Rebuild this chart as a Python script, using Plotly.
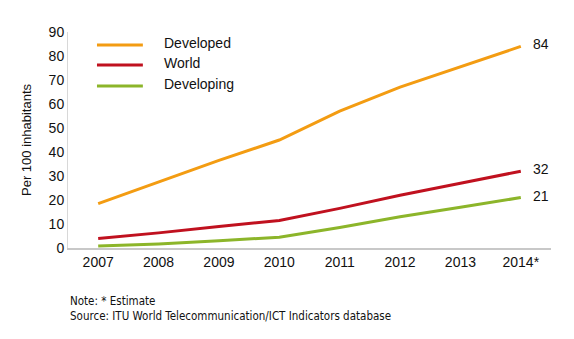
import plotly.graph_objects as go

years = ["2007", "2008", "2009", "2010", "2011", "2012", "2013", "2014*"]
developed = [18.5, 27.5, 36.5, 45, 57, 67, 75.5, 84]
world = [4, 6.3, 9, 11.5, 16.5, 22, 27, 32]
developing = [0.8, 1.7, 3, 4.5, 8.5, 13, 17, 21]
series_names = ["Developed", "World", "Developing"]
series_colors = ["#F39C12", "#C0111F", "#8CB52A"]
end_labels = ["84", "32", "21"]
y_ticks = [0, 10, 20, 30, 40, 50, 60, 70, 80, 90]

fig = go.Figure()
xs = list(range(len(years)))
for name, vals, col in zip(series_names, [developed, world, developing], series_colors):
    fig.add_trace(go.Scatter(x=xs, y=vals, mode="lines", name=name,
                             line=dict(color=col, width=3), showlegend=False))

for vals, lab in zip([developed, world, developing], end_labels):
    fig.add_annotation(x=xs[-1], y=vals[-1], text=lab, showarrow=False,
                       xanchor="left", xshift=10, yshift=2,
                       font=dict(size=14, color="#111"))

# manual legend
leg_y = [0.94, 0.847, 0.750]
for name, col, ly in zip(series_names, series_colors, leg_y):
    fig.add_shape(type="line", xref="paper", yref="paper", x0=0.060, x1=0.155, y0=ly, y1=ly,
                  line=dict(color=col, width=3))
    fig.add_annotation(xref="paper", yref="paper", x=0.194, y=ly, yshift=2, text=name,
                       showarrow=False, xanchor="left", yanchor="middle",
                       font=dict(size=14, color="#111"))

fig.add_annotation(xref="paper", yref="paper", x=0, y=-0.205, xanchor="left", yanchor="top",
                   align="left", showarrow=False,
                   text="Note: * Estimate<br>Source: ITU World Telecommunication/ICT Indicators database",
                   font=dict(family="DejaVu Sans Condensed, Liberation Sans Narrow, sans-serif", size=11.5, color="#111"))

fig.update_layout(
    width=574, height=339,
    margin=dict(l=68, r=23, t=32, b=91),
    paper_bgcolor="white", plot_bgcolor="white",
    font=dict(family="Liberation Sans, Arial, sans-serif", size=14, color="#111"),
    showlegend=False,
    xaxis=dict(range=[-0.5, 7.5], tickmode="array", tickvals=xs, ticktext=years,
               showgrid=False, zeroline=False, showline=True, linecolor="#c8c8c8", linewidth=2,
               ticks="", tickfont=dict(size=14)),
    yaxis=dict(range=[0, 90], tickvals=y_ticks, showgrid=False, zeroline=False,
               showline=True, linecolor="#d8d8d8", linewidth=1, ticks="",
               title=dict(text="Per 100 inhabitants", font=dict(size=13), standoff=14),
               tickfont=dict(size=14)),
)

fig.write_html("out.html")
